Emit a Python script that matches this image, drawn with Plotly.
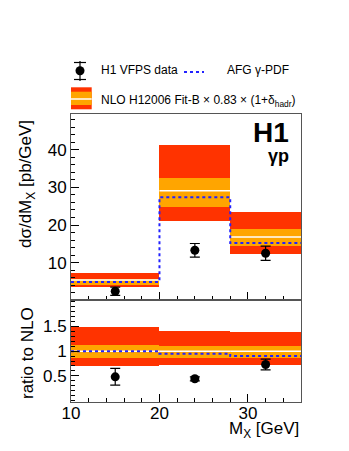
import plotly.graph_objects as go
from plotly.subplots import make_subplots

# bins in M_X [GeV]
bin_edges = [10, 20, 28, 36]
bin_centers = [15, 24, 32]
bin_widths = [10, 8, 8]

# cross section dsigma/dM_X [pb/GeV]
data_x = [15, 24, 32]
data_y = [2.4, 13.3, 12.5]
data_err = [1.1, 1.8, 1.9]

nlo_central = [5.4, 29.1, 16.8]
nlo_tot_lo = [3.5, 21.2, 12.4]
nlo_tot_hi = [7.3, 41.3, 23.6]
nlo_scale_lo = [4.2, 24.9, 14.4]
nlo_scale_hi = [5.7, 32.4, 18.9]
afg = [4.9, 27.4, 15.2]

# ratio to NLO
ratio_y = [0.48, 0.44, 0.73]
ratio_err = [0.17, 0.04, 0.11]
ratio_central = [1.0, 1.0, 1.0]
ratio_tot_lo = [0.69, 0.72, 0.72]
ratio_tot_hi = [1.475, 1.41, 1.39]
ratio_scale_lo = [0.85, 0.86, 0.85]
ratio_scale_hi = [1.11, 1.09, 1.09]
ratio_afg = [1.0, 0.95, 0.9]

RED = "#ff3300"
ORANGE = "#ffa500"
BLUE = "#2222ff"
FONT = "Liberation Sans, Arial, sans-serif"

# the page body has an 8px margin, so the figure is shifted by that much
OFF = 8
W, H = 349 - OFF, 451 - OFF
ML, MR, MT, MB = 71 - OFF, 48, 114 - OFF, 49


def px(x):
    # x in page pixels -> paper
    return (x - OFF - ML) / (W - ML - MR)


def py(y):
    return (H - MB - (y - OFF)) / (H - MT - MB)


def step_segments(vals):
    xs, ys = [], []
    for i, v in enumerate(vals):
        xs += [bin_edges[i], bin_edges[i + 1], None]
        ys += [v, v, None]
    return xs, ys


def step_line(vals):
    return bin_edges, list(vals) + [vals[-1]]


fig = make_subplots(rows=2, cols=1, shared_xaxes=True, vertical_spacing=0,
                    row_heights=[0.647, 0.353])


def add_panel(row, lo_t, hi_t, lo_s, hi_s, cen, afg_vals, yv, ye):
    fig.add_trace(go.Bar(x=bin_centers, width=bin_widths, base=lo_t,
                         y=[h - l for h, l in zip(hi_t, lo_t)],
                         marker=dict(color=RED, line_width=0),
                         showlegend=False), row=row, col=1)
    fig.add_trace(go.Bar(x=bin_centers, width=bin_widths, base=lo_s,
                         y=[h - l for h, l in zip(hi_s, lo_s)],
                         marker=dict(color=ORANGE, line_width=0),
                         showlegend=False), row=row, col=1)
    sx, sy = step_segments(cen)
    fig.add_trace(go.Scatter(x=sx, y=sy, mode="lines",
                             line=dict(color="white", width=1.5),
                             showlegend=False), row=row, col=1)
    ax, ay = step_line(afg_vals)
    fig.add_trace(go.Scatter(x=ax, y=ay, mode="lines", line_shape="hv",
                             line=dict(color=BLUE, width=2, dash="dot"),
                             showlegend=False), row=row, col=1)
    fig.add_trace(go.Scatter(x=data_x, y=yv, mode="markers",
                             marker=dict(color="black", size=9),
                             error_y=dict(type="data", array=ye, color="black",
                                          thickness=1.2, width=5),
                             showlegend=False), row=row, col=1)


add_panel(1, nlo_tot_lo, nlo_tot_hi, nlo_scale_lo, nlo_scale_hi,
          nlo_central, afg, data_y, data_err)
add_panel(2, ratio_tot_lo, ratio_tot_hi, ratio_scale_lo, ratio_scale_hi,
          ratio_central, ratio_afg, ratio_y, ratio_err)

axis_common = dict(showline=True, mirror=True, linecolor="#555555", linewidth=1,
                   ticks="inside", tickcolor="black", showgrid=False,
                   zeroline=False, tickfont=dict(family=FONT, size=17, color="black"))

fig.update_xaxes(range=[10, 36], tickvals=[10, 20, 30], ticklen=8,
                 ticklabelstandoff=-4,
                 minor=dict(dtick=2, tick0=10, ticks="inside", ticklen=4,
                            tickcolor="black"),
                 **axis_common)
fig.update_xaxes(showticklabels=False, row=1, col=1)
fig.update_yaxes(range=[0, 49.5], tickvals=[0, 10, 20, 30, 40],
                 ticktext=["", "10", "20", "30", "40"], ticklen=8,
                 minor=dict(dtick=2, tick0=0, ticks="inside", ticklen=4,
                            tickcolor="black"),
                 row=1, col=1, **axis_common)
fig.update_yaxes(range=[-0.03, 2.03], tickvals=[0.5, 1, 1.5],
                 ticktext=["0.5", "1", "1.5"], ticklen=8,
                 minor=dict(dtick=0.1, tick0=0, ticks="inside", ticklen=4,
                            tickcolor="black"),
                 row=2, col=1, **axis_common)

shapes = []
annotations = []


def label(x, y, text, size, xanchor="center", angle=0):
    annotations.append(dict(x=px(x), y=py(y), xref="paper", yref="paper",
                            text=text, textangle=angle, showarrow=False,
                            xanchor=xanchor, yanchor="middle",
                            font=dict(family=FONT, size=size, color="black")))


# titles
label(27, 184, "dσ/dM<sub>X</sub> [pb/GeV]", 17, angle=-90)
label(27, 353, "ratio to NLO", 17, angle=-90)
label(301, 430, "M<sub>X</sub> [GeV]", 17, xanchor="right")
label(291, 132, "<b>H1</b>", 28, xanchor="right")
label(291, 156, "<b>γp</b>", 18, xanchor="right")

# legend: data marker
shapes.append(dict(type="line", xref="paper", yref="paper",
                   x0=px(80), x1=px(80), y0=py(61), y1=py(81),
                   line=dict(color="black", width=1.2)))
for yy in (62.5, 79.5):
    shapes.append(dict(type="line", xref="paper", yref="paper",
                       x0=px(74), x1=px(86), y0=py(yy), y1=py(yy),
                       line=dict(color="black", width=1.2)))
shapes.append(dict(type="circle", xref="paper", yref="paper",
                   x0=px(75.5), x1=px(84.5), y0=py(75.3), y1=py(66.3),
                   fillcolor="black", line=dict(color="black", width=0)))
label(99, 70, "H1 VFPS data", 12, xanchor="left")
# legend: AFG
shapes.append(dict(type="line", xref="paper", yref="paper",
                   x0=px(184), x1=px(204), y0=py(72), y1=py(72),
                   line=dict(color=BLUE, width=2, dash="dot")))
label(225, 70, "AFG γ-PDF", 12, xanchor="left")
# legend: NLO box
shapes.append(dict(type="rect", xref="paper", yref="paper",
                   x0=px(71), x1=px(91.7), y0=py(109.3), y1=py(87.3),
                   fillcolor=RED, line_width=0))
shapes.append(dict(type="rect", xref="paper", yref="paper",
                   x0=px(71), x1=px(91.7), y0=py(105), y1=py(91.7),
                   fillcolor=ORANGE, line_width=0))
shapes.append(dict(type="line", xref="paper", yref="paper",
                   x0=px(71), x1=px(91.7), y0=py(99), y1=py(99),
                   line=dict(color="white", width=1.5)))
label(99, 101, "NLO H12006 Fit-B × 0.83 × (1+δ<sub>hadr</sub>)", 12,
      xanchor="left")

fig.update_layout(width=W, height=H, barmode="overlay", bargap=0,
                  margin=dict(l=ML, r=MR, t=MT, b=MB),
                  paper_bgcolor="white", plot_bgcolor="white",
                  font=dict(family=FONT, color="black"),
                  shapes=shapes, annotations=annotations, showlegend=False)

fig.write_html("out.html")
